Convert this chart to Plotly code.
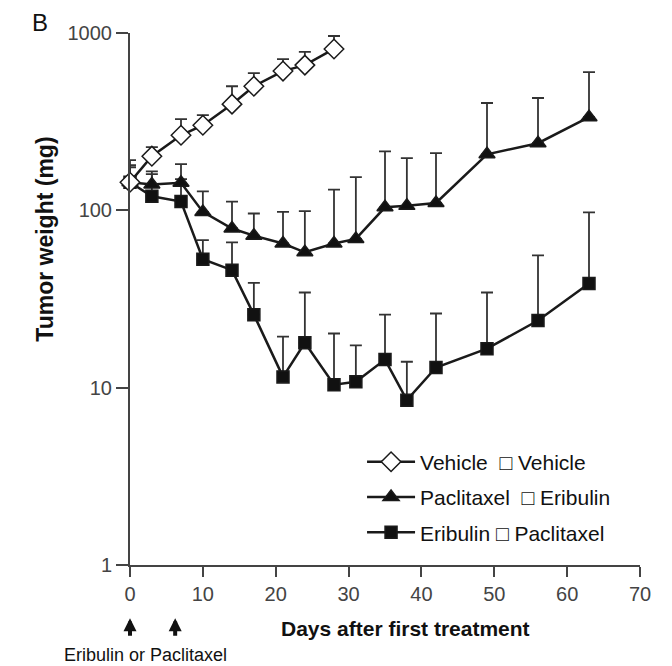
import plotly.graph_objects as go

veh_days = [0, 3, 7, 10, 14, 17, 21, 24, 28]
veh_mean = [144, 202, 265, 302, 397, 501, 610, 659, 813]
veh_top = [192, 227, 327, 344, 501, 594, 713, 782, 962]

pe_days = [0, 3, 7, 10, 14, 17, 21, 24, 28, 31, 35, 38, 42, 49, 56, 63]
pe_mean = [144, 140, 143, 98, 79, 72, 65, 58, 65, 69, 104, 106, 110, 207, 239, 335]
pe_top = [180, 166, 182, 128, 112, 96, 98, 99, 131, 154, 215, 197, 210, 403, 430, 602]

ep_days = [0, 3, 7, 10, 14, 17, 21, 24, 28, 31, 35, 38, 42, 49, 56, 63]
ep_mean = [144, 120, 112, 53, 46, 25.8, 11.5, 17.9, 10.4, 10.8, 14.4, 8.5, 13, 16.6, 23.9, 38.7]
ep_top = [175, 160, 150, 68, 66, 39, 19.4, 34.4, 20.2, 17.3, 25.8, 14, 26.2, 34.4, 55.7, 97.5]

names = ["Vehicle  \u25a1 Vehicle", "Paclitaxel  \u25a1 Eribulin", "Eribulin \u25a1 Paclitaxel"]
x_ticks = [0, 10, 20, 30, 40, 50, 60, 70]
y_ticks = [1, 10, 100, 1000]
y_ticklabels = ["1", "10", "100", "1000"]
arrow_days = [0, 6.2]

fig = go.Figure()

def add_series(days, mean, top, name, symbol, fill, size, rank):
    fig.add_trace(go.Scatter(
        x=days, y=mean, name=name, mode="lines+markers", legendgroup=name,
        legendrank=rank,
        line=dict(color="#1a1a1a", width=2.5),
        marker=dict(symbol=symbol, size=size, color=fill,
                    line=dict(color="#1a1a1a", width=1.5)),
        error_y=dict(type="data", symmetric=False,
                     array=[t - m for t, m in zip(top, mean)],
                     arrayminus=[0] * len(mean),
                     color="#333333", thickness=1.8, width=6),
        cliponaxis=False,
    ))

add_series(ep_days, ep_mean, ep_top, names[2], "square", "#111111", 12, 3)
add_series(pe_days, pe_mean, pe_top, names[1], "triangle-up", "#111111", 14, 2)
add_series(veh_days, veh_mean, veh_top, names[0], "diamond", "white", 15, 1)

tickfont = dict(family="Arial, Liberation Sans, sans-serif", size=20, color="#444")

fig.update_layout(
    width=664, height=658,
    margin=dict(l=122, r=32, t=25, b=101),
    paper_bgcolor="white", plot_bgcolor="white",
    showlegend=True,
    legend=dict(x=0.455, y=0.232, xanchor="left", yanchor="top",
                traceorder="grouped", tracegroupgap=5, itemwidth=48,
                font=dict(family="Arial, Liberation Sans, sans-serif", size=21, color="#111"),
                bgcolor="rgba(0,0,0,0)"),
    xaxis=dict(range=[0, 70], tickvals=x_ticks, showgrid=False, zeroline=False,
               showline=True, linecolor="#444", linewidth=2,
               ticks="outside", ticklen=10, tickwidth=2, tickcolor="#444",
               tickfont=tickfont),
    yaxis=dict(type="log", range=[0, 3], tickvals=y_ticks, ticktext=y_ticklabels,
               showgrid=False, zeroline=False,
               showline=True, linecolor="#444", linewidth=2,
               ticks="outside", ticklen=12, tickwidth=2, tickcolor="#444",
               tickfont=tickfont),
    font=dict(family="Arial, Liberation Sans, sans-serif"),
)

annotations = [
    dict(text="B", xref="paper", yref="paper", x=-0.1765, y=1.049, showarrow=False,
         xanchor="center", yanchor="top", font=dict(size=24, color="#111")),
    dict(text="<b>Tumor weight (mg)</b>", xref="paper", yref="paper", x=-0.167, y=0.613,
         textangle=-90, showarrow=False, xanchor="center", yanchor="middle",
         font=dict(size=23, color="#111")),
    dict(text="<b>Days after first treatment</b>", xref="paper", yref="paper", x=0.541, y=-0.1203,
         showarrow=False, xanchor="center", yanchor="middle",
         font=dict(size=21, color="#111")),
    dict(text="Eribulin or Paclitaxel", xref="paper", yref="paper", x=-0.1333, y=-0.169,
         showarrow=False, xanchor="left", yanchor="middle",
         font=dict(family="Arial, Liberation Sans, sans-serif", size=18, color="#111")),
]
for d in arrow_days:
    annotations.append(dict(x=d, y=-0.1, xref="x", yref="paper",
                            ax=0, ay=19, axref="pixel", ayref="pixel",
                            text="", showarrow=True, arrowhead=2, arrowsize=0.65,
                            arrowwidth=4, arrowcolor="#111"))
fig.update_layout(annotations=annotations)

fig.add_shape(type="line", xref="paper", yref="paper", x0=1.056, x1=1.056, y0=-0.2, y1=1.05,
              line=dict(color="#888", width=2))

fig.write_html("out.html")
